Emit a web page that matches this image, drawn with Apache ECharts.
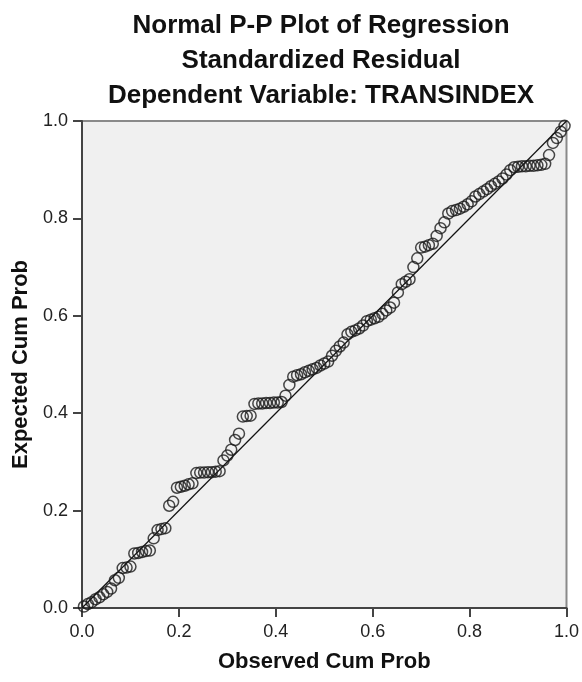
<!DOCTYPE html>
<html>
<head>
<meta charset="utf-8">
<script src="https://cdn.jsdelivr.net/npm/echarts@6/dist/echarts.min.js"></script>
<style>
  html, body { margin: 0; padding: 0; background: #fff; }
  #chart { width: 582px; height: 682px; }
</style>
</head>
<body>
<div id="chart"></div>
<script>
// observed vs expected cumulative probabilities
var obsProb = [
  0.004, 0.012, 0.020, 0.028, 0.036, 0.044, 0.052, 0.060, 0.068, 0.076,
  0.084, 0.092, 0.100, 0.108, 0.116, 0.124, 0.132, 0.140, 0.148, 0.156,
  0.164, 0.172, 0.180, 0.188, 0.196, 0.204, 0.212, 0.220, 0.228, 0.236,
  0.244, 0.252, 0.260, 0.268, 0.276, 0.284, 0.292, 0.300, 0.308, 0.316,
  0.324, 0.332, 0.340, 0.348, 0.356, 0.364, 0.372, 0.380, 0.388, 0.396,
  0.404, 0.412, 0.420, 0.428, 0.436, 0.444, 0.452, 0.460, 0.468, 0.476,
  0.484, 0.492, 0.500, 0.508, 0.516, 0.524, 0.532, 0.540, 0.548, 0.556,
  0.564, 0.572, 0.580, 0.588, 0.596, 0.604, 0.612, 0.620, 0.628, 0.636,
  0.644, 0.652, 0.660, 0.668, 0.676, 0.684, 0.692, 0.700, 0.708, 0.716,
  0.724, 0.732, 0.740, 0.748, 0.756, 0.764, 0.772, 0.780, 0.788, 0.796,
  0.804, 0.812, 0.820, 0.828, 0.836, 0.844, 0.852, 0.860, 0.868, 0.876,
  0.884, 0.892, 0.900, 0.908, 0.916, 0.924, 0.932, 0.940, 0.948, 0.956,
  0.964, 0.972, 0.980, 0.988, 0.996
];
var expProb = [
  0.003, 0.008, 0.012, 0.018, 0.022, 0.028, 0.033, 0.040, 0.057, 0.062,
  0.082, 0.083, 0.085, 0.112, 0.113, 0.115, 0.117, 0.118, 0.143, 0.160,
  0.162, 0.164, 0.210, 0.218, 0.247, 0.249, 0.251, 0.254, 0.256, 0.277,
  0.278, 0.278, 0.279, 0.279, 0.280, 0.281, 0.303, 0.313, 0.325, 0.345,
  0.358, 0.393, 0.394, 0.395, 0.419, 0.420, 0.420, 0.421, 0.421, 0.422,
  0.422, 0.423, 0.436, 0.458, 0.475, 0.478, 0.480, 0.484, 0.487, 0.490,
  0.493, 0.498, 0.502, 0.506, 0.518, 0.528, 0.537, 0.545, 0.562, 0.567,
  0.570, 0.574, 0.580, 0.589, 0.592, 0.595, 0.598, 0.604, 0.611, 0.617,
  0.627, 0.648, 0.665, 0.670, 0.675, 0.700, 0.718, 0.740, 0.742, 0.745,
  0.748, 0.764, 0.780, 0.792, 0.810, 0.815, 0.817, 0.820, 0.824, 0.829,
  0.835, 0.845, 0.850, 0.855, 0.860, 0.866, 0.871, 0.876, 0.882, 0.890,
  0.899, 0.905, 0.906, 0.907, 0.907, 0.908, 0.908, 0.909, 0.910, 0.912,
  0.930, 0.955, 0.965, 0.978, 0.990
];
var refLine = [[0, 0], [1, 1]];
var tickLabels = ['0.0', '0.2', '0.4', '0.6', '0.8', '1.0'];

var points = obsProb.map(function(x, i) { return [x, expProb[i]]; });

var chart = echarts.init(document.getElementById('chart'), null, { renderer: 'canvas' });

var FONT = 'Liberation Sans, Arial, sans-serif';

var axisCommon = {
  type: 'value',
  min: 0,
  max: 1,
  interval: 0.2,
  splitLine: { show: false },
  axisLine: { show: true, lineStyle: { color: '#444', width: 2 } },
  axisTick: { show: true, inside: false, length: 9, lineStyle: { color: '#444', width: 2 } },
  axisLabel: {
    color: '#222',
    fontSize: 18,
    fontFamily: FONT,
    margin: 14,
    formatter: function(v) { return tickLabels[Math.round(v / 0.2)]; }
  },
  nameLocation: 'middle',
  nameTextStyle: {
    color: '#111',
    fontSize: 22,
    fontWeight: 'bold',
    fontFamily: FONT
  }
};

var option = {
  animation: false,
  backgroundColor: '#ffffff',
  title: {
    text: 'Normal P-P Plot of Regression\nStandardized Residual\nDependent Variable: TRANSINDEX',
    left: 316,
    top: 3,
    textAlign: 'center',
    textStyle: {
      color: '#111',
      fontSize: 26,
      fontWeight: 'bold',
      lineHeight: 35,
      fontFamily: FONT
    }
  },
  grid: {
    left: 82,
    right: 12,
    top: 121,
    bottom: 74,
    show: true,
    backgroundColor: '#f0f0f0',
    borderColor: '#8a8a8a',
    borderWidth: 2
  },
  xAxis: Object.assign({}, axisCommon, {
    name: 'Observed Cum Prob',
    nameGap: 43,
    axisLabel: Object.assign({}, axisCommon.axisLabel, { margin: 15 })
  }),
  yAxis: Object.assign({}, axisCommon, {
    name: 'Expected Cum Prob',
    nameGap: 49
  }),
  series: [
    {
      type: 'line',
      data: refLine,
      symbol: 'none',
      lineStyle: { color: '#111', width: 1.2 },
      z: 1
    },
    {
      type: 'scatter',
      data: points,
      symbol: 'circle',
      symbolSize: 11,
      itemStyle: { color: 'rgba(0,0,0,0)', borderColor: '#1a1a1a', borderWidth: 1.5 },
      z: 2
    }
  ]
};

chart.setOption(option);
</script>
</body>
</html>
